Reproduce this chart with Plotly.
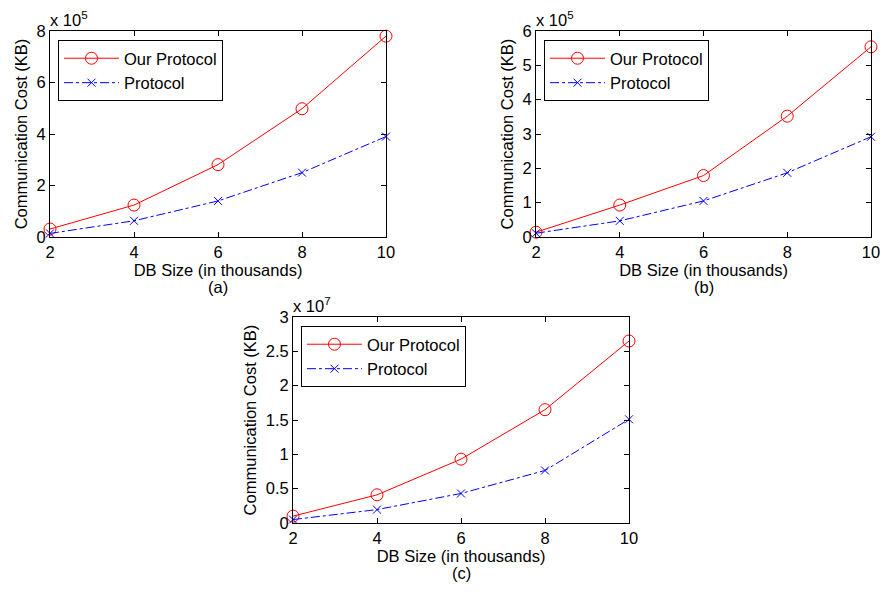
import plotly.graph_objects as go

db_size = [2, 4, 6, 8, 10]
x_ticks = [2, 4, 6, 8, 10]

# (a) values in units of 1e5 KB
a_our = [0.31, 1.24, 2.81, 4.98, 7.80]
a_prot = [0.14, 0.63, 1.40, 2.50, 3.90]
# (b) values in units of 1e5 KB
b_our = [0.14, 0.93, 1.79, 3.52, 5.54]
b_prot = [0.11, 0.47, 1.05, 1.87, 2.92]
# (c) values in units of 1e7 KB
c_our = [0.10, 0.41, 0.93, 1.65, 2.65]
c_prot = [0.05, 0.195, 0.43, 0.765, 1.51]

a_yticks = [0, 2, 4, 6, 8]
b_yticks = [0, 1, 2, 3, 4, 5, 6]
c_yticks = [0, 0.5, 1, 1.5, 2, 2.5, 3]
c_yticklabels = ["0", "0.5", "1", "1.5", "2", "2.5", "3"]

series_names = ["Our Protocol", "Protocol"]
panel_labels = ["(a)", "(b)", "(c)"]
exponents = ["x 10<sup>5</sup>", "x 10<sup>5</sup>", "x 10<sup>7</sup>"]
x_title = "DB Size (in thousands)"
y_title = "Communication Cost (KB)"

FONT = "Liberation Sans, Arial, sans-serif"
FS = 16.5
W, H = 882, 592

fig = go.Figure()

panels = [
    dict(our=a_our, prot=a_prot, yr=[0, 8], yt=a_yticks, ytl=[str(v) for v in a_yticks],
         xd=[50 / W, 386 / W], yd=[1 - 237 / H, 1 - 31 / H], xa="x", ya="y", leg="legend"),
    dict(our=b_our, prot=b_prot, yr=[0, 6], yt=b_yticks, ytl=[str(v) for v in b_yticks],
         xd=[536 / W, 871 / W], yd=[1 - 237 / H, 1 - 31 / H], xa="x2", ya="y2", leg="legend2"),
    dict(our=c_our, prot=c_prot, yr=[0, 3], yt=c_yticks, ytl=c_yticklabels,
         xd=[293 / W, 629 / W], yd=[1 - 523 / H, 1 - 317 / H], xa="x3", ya="y3", leg="legend3"),
]

annotations = []
for i, p in enumerate(panels):
    fig.add_trace(go.Scatter(
        x=db_size, y=p["our"], name=series_names[0], mode="lines+markers",
        line=dict(color="#ff0000", width=1),
        marker=dict(symbol="circle-open", size=12, color="#ff0000", line=dict(width=1)),
        xaxis=p["xa"], yaxis=p["ya"], legend=p["leg"], cliponaxis=False))
    fig.add_trace(go.Scatter(
        x=db_size, y=p["prot"], name=series_names[1], mode="lines+markers",
        line=dict(color="#0000ff", width=1, dash="dashdot"),
        marker=dict(symbol="x-thin-open", size=8, color="#0000ff", line=dict(width=1, color="#0000ff")),
        xaxis=p["xa"], yaxis=p["ya"], legend=p["leg"], cliponaxis=False))

    sfx = "" if i == 0 else str(i + 1)
    axis_common = dict(showline=True, linecolor="black", linewidth=1, mirror="allticks",
                       ticks="inside", ticklen=5, tickcolor="black", showgrid=False,
                       zeroline=False, automargin=False,
                       tickfont=dict(family=FONT, size=FS, color="black"))
    fig.update_layout(**{
        "xaxis" + sfx: dict(domain=p["xd"], range=[2, 10], tickvals=x_ticks,
                            ticktext=[str(v) for v in x_ticks], anchor="y" + sfx,
                            title=dict(text=x_title, font=dict(family=FONT, size=FS, color="black"),
                                       standoff=2), **axis_common),
        "yaxis" + sfx: dict(domain=p["yd"], range=p["yr"], tickvals=p["yt"], ticktext=p["ytl"],
                            anchor="x" + sfx,
                            title=dict(text=y_title, font=dict(family=FONT, size=FS, color="black"),
                                       standoff=4), **axis_common),
        p["leg"]: dict(x=p["xd"][0] + 8 / W, y=p["yd"][1] - 9 / H, xanchor="left", yanchor="top",
                       xref="paper", yref="paper",
                       bgcolor="white", bordercolor="black", borderwidth=1,
                       font=dict(family=FONT, size=FS, color="black"),
                       tracegroupgap=0, itemwidth=55),
    })
    annotations.append(dict(text=exponents[i], x=p["xd"][0] - 2 / W, y=p["yd"][1], xref="paper", yref="paper",
                            xanchor="left", yanchor="bottom", showarrow=False,
                            font=dict(family=FONT, size=FS, color="black")))
    cx = (p["xd"][0] + p["xd"][1]) / 2
    annotations.append(dict(text=panel_labels[i], x=cx, y=p["yd"][0] - 39 / H, xref="paper", yref="paper",
                            xanchor="center", yanchor="top", showarrow=False,
                            font=dict(family=FONT, size=FS, color="black")))

fig.update_layout(width=W, height=H, margin=dict(l=0, r=0, t=0, b=0),
                  paper_bgcolor="white", plot_bgcolor="white", annotations=annotations,
                  showlegend=True, font=dict(family=FONT, size=FS, color="black"))

fig.write_html("out.html", config={"displayModeBar": False},
               post_script="document.body.style.margin='0';")
